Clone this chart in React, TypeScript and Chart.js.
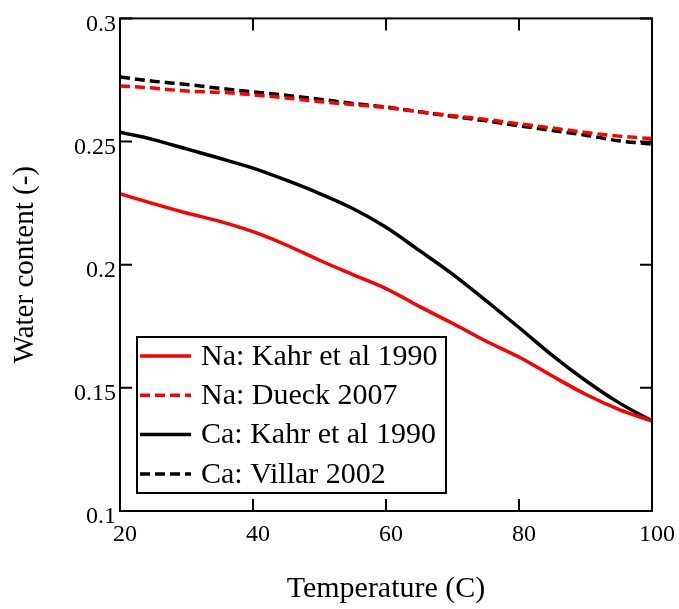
import React, { useEffect, useRef } from "react";
import { Chart, registerables } from "chart.js";

Chart.register(...registerables);

const temperature = [20, 25, 30, 35, 40, 45, 50, 55, 60, 65, 70, 75, 80, 85, 90, 95, 100];
const naKahr = [0.2288, 0.2248, 0.221, 0.2176, 0.2134, 0.208, 0.2018, 0.196, 0.1903, 0.1831, 0.1762, 0.1690, 0.1625, 0.1548, 0.1474, 0.1413, 0.1365];
const naDueck = [0.2726, 0.2717, 0.2705, 0.27, 0.269, 0.2677, 0.2662, 0.265, 0.2638, 0.2621, 0.2605, 0.259, 0.2572, 0.2555, 0.2537, 0.2522, 0.2512];
const caKahr = [0.2538, 0.2508, 0.247, 0.2432, 0.2392, 0.2343, 0.2289, 0.2228, 0.2152, 0.2058, 0.1962, 0.1855, 0.1745, 0.1632, 0.153, 0.1440, 0.1365];
const caVillar = [0.2762, 0.2745, 0.2732, 0.2716, 0.2702, 0.2688, 0.2672, 0.2655, 0.264, 0.2621, 0.2602, 0.2584, 0.2564, 0.2545, 0.2526, 0.2503, 0.249];

const xTicks = [20, 40, 60, 80, 100];
const yTicks = [0.1, 0.15, 0.2, 0.25, 0.3];
const seriesLabels = ["Na: Kahr et al 1990", "Na: Dueck 2007", "Ca: Kahr et al 1990", "Ca: Villar 2002"];
const seriesColors = ["#ff0000", "#ff0000", "#000000", "#000000"];
const seriesDashed = [false, true, false, true];
const seriesValues = [naKahr, naDueck, caKahr, caVillar];

const xTitle = "Temperature (C)";
const yTitle = "Water content (-)";

const FONT = "'Liberation Serif', 'Times New Roman', serif";
const DASH = [10, 5];

const framePlugin = {
  id: "frameTicks",
  afterDatasetsDraw(chart: any) {
    const { ctx, chartArea } = chart;
    const { left, right, top, bottom } = chartArea;
    const xs = chart.scales.x;
    const ys = chart.scales.y;
    const len = 12;
    ctx.save();
    ctx.strokeStyle = "#000";
    ctx.lineWidth = 2;
    ctx.setLineDash([]);
    ctx.strokeRect(left, top, right - left, bottom - top);
    ctx.beginPath();
    xTicks.forEach((v) => {
      const p = xs.getPixelForValue(v);
      ctx.moveTo(p, bottom);
      ctx.lineTo(p, bottom - len);
      ctx.moveTo(p, top);
      ctx.lineTo(p, top + len);
    });
    yTicks.forEach((v) => {
      const p = ys.getPixelForValue(v);
      ctx.moveTo(left, p);
      ctx.lineTo(left + len, p);
      ctx.moveTo(right, p);
      ctx.lineTo(right - len, p);
    });
    ctx.stroke();

    // legend
    const bx = 137, by = 337, bw = 309, bh = 156;
    ctx.fillStyle = "#fff";
    ctx.fillRect(bx, by, bw, bh);
    ctx.lineWidth = 2;
    ctx.strokeRect(bx, by, bw, bh);
    const rowH = 39.3;
    ctx.font = `30px ${FONT}`;
    ctx.textBaseline = "middle";
    ctx.textAlign = "left";
    seriesLabels.forEach((lab, i) => {
      const y = by + 19 + i * rowH;
      ctx.beginPath();
      ctx.strokeStyle = seriesColors[i];
      ctx.lineWidth = 3.5;
      ctx.setLineDash(seriesDashed[i] ? DASH : []);
      ctx.moveTo(140, y);
      ctx.lineTo(191, y);
      ctx.stroke();
      ctx.setLineDash([]);
      ctx.fillStyle = "#000";
      ctx.fillText(lab, 201, y + 1);
    });
    ctx.restore();
  },
};

export default function App() {
  const ref = useRef<HTMLCanvasElement>(null);
  useEffect(() => {
    document.body.style.margin = "0";
    const canvas = ref.current!;
    const chart = new Chart(canvas, {
      type: "line",
      data: {
        datasets: seriesValues.map((vals, i) => ({
          label: seriesLabels[i],
          data: vals.map((v, j) => ({ x: temperature[j], y: v })),
          borderColor: seriesColors[i],
          backgroundColor: seriesColors[i],
          borderWidth: 3.5,
          borderDash: seriesDashed[i] ? DASH : [],
          pointRadius: 0,
          cubicInterpolationMode: "monotone",
          fill: false,
        })),
      },
      options: {
        animation: false,
        responsive: false,
        devicePixelRatio: 1,
        layout: { padding: { left: 0, top: 16, right: 24, bottom: 0 } },
        plugins: { legend: { display: false }, tooltip: { enabled: false } },
        scales: {
          x: {
            type: "linear",
            min: 20,
            max: 100,
            grid: { display: false, drawTicks: false },
            border: { display: false },
            afterBuildTicks: (s: any) => {
              s.ticks = xTicks.map((v) => ({ value: v }));
            },
            afterFit: (s: any) => {
              s.height = 98;
            },
            ticks: {
              autoSkip: false,
              maxRotation: 0,
              padding: 9,
              labelOffset: 5,
              color: "#000",
              font: { family: FONT, size: 24 },
              callback: (v: any) => String(v),
            },
            title: {
              display: true,
              text: xTitle,
              color: "#000",
              font: { family: FONT, size: 30, lineHeight: 1.3 },
              padding: 0,
            },
          },
          y: {
            type: "linear",
            min: 0.1,
            max: 0.3,
            grid: { display: false, drawTicks: false },
            border: { display: false },
            afterBuildTicks: (s: any) => {
              s.ticks = yTicks.map((v) => ({ value: v }));
            },
            afterFit: (s: any) => {
              s.width = 120;
            },
            ticks: {
              autoSkip: false,
              padding: 4,
              labelOffset: 6,
              color: "#000",
              font: { family: FONT, size: 24 },
              callback: (v: any) => String(Number(Number(v).toFixed(2))),
            },
            title: {
              display: true,
              text: yTitle,
              color: "#000",
              font: { family: FONT, size: 29, lineHeight: 1.2 },
              padding: { top: 8, bottom: 8 },
            },
          },
        },
      },
      plugins: [framePlugin],
    });
    return () => chart.destroy();
  }, []);
  return (
    <div style={{ width: 679, height: 609, background: "#fff" }}>
      <canvas ref={ref} width={679} height={609} style={{ display: "block" }} />
    </div>
  );
}
